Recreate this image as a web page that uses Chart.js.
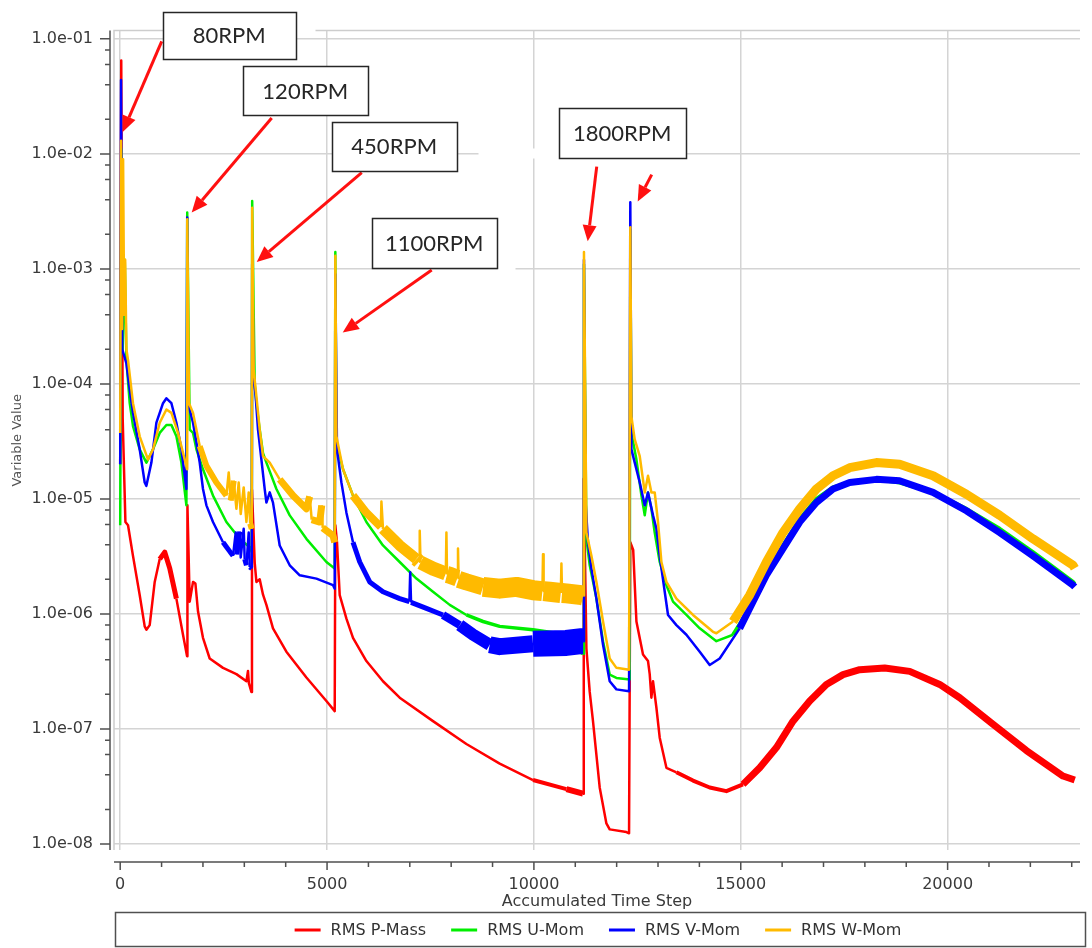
<!DOCTYPE html>
<html>
<head>
<meta charset="utf-8">
<script src="https://cdn.jsdelivr.net/npm/chart.js@4.4.1/dist/chart.umd.min.js"></script>
<style>
  html, body { margin: 0; padding: 0; background: #fff; }
</style>
</head>
<body>
<canvas id="myChart" width="1092" height="948"></canvas>
<script>
// axis ranges and tick labels
const xMin = -150, xMax = 23200;
const yMin = 8.87e-9, yMax = 1.18e-1;
const xTicks = [0, 5000, 10000, 15000, 20000];
const yTicks = [1e-1, 1e-2, 1e-3, 1e-4, 1e-5, 1e-6, 1e-7, 1e-8];

const seriesNames = ['RMS P-Mass', 'RMS U-Mom', 'RMS V-Mom', 'RMS W-Mom'];

// [accumulated time step, residual]
const pMass = [
    [0, 2.0e-5], [25, 6.5e-2], [60, 5.0e-5], [126, 6.3e-6], [189, 5.9e-6], [309, 3.2e-6], [471, 1.46e-6],
    [592, 7.8e-7], [633, 7.3e-7], [713, 8.0e-7], [834, 1.9e-6], [955, 3.0e-6], [1076, 3.45e-6], [1197, 2.5e-6],
    [1358, 1.36e-6], [1518, 6.6e-7], [1615, 4.3e-7], [1625, 8.8e-6], [1680, 1.28e-6], [1760, 1.9e-6],
    [1818, 1.84e-6], [1881, 1.05e-6], [2001, 6.2e-7], [2163, 4.1e-7], [2485, 3.4e-7], [2809, 3.0e-7],
    [3051, 2.6e-7], [3089, 3.2e-7], [3110, 2.5e-7], [3171, 2.1e-7], [3185, 1.2e-5], [3251, 2.8e-6],
    [3292, 1.9e-6], [3372, 2.0e-6], [3452, 1.47e-6], [3534, 1.2e-6], [3693, 7.5e-7], [4017, 4.7e-7],
    [4501, 2.8e-7], [4984, 1.75e-7], [5185, 1.43e-7], [5200, 5.9e-6], [5240, 4.2e-6], [5306, 1.46e-6],
    [5468, 9.1e-7], [5627, 6.2e-7], [5951, 3.9e-7], [6352, 2.6e-7], [6756, 1.87e-7], [7561, 1.17e-7],
    [8368, 7.4e-8], [9173, 5.0e-8], [9978, 3.6e-8], [10786, 3.0e-8], [11187, 2.74e-8], [11205, 1.5e-5],
    [11269, 5.0e-7], [11349, 2.1e-7], [11428, 1.17e-7], [11590, 3.1e-8], [11752, 1.51e-8], [11832, 1.34e-8],
    [12236, 1.27e-8], [12300, 1.24e-8], [12330, 4.2e-6], [12400, 3.6e-6], [12478, 8.6e-7], [12637, 4.45e-7],
    [12758, 3.9e-7], [12799, 3.0e-7], [12840, 1.87e-7], [12879, 2.6e-7], [12961, 1.53e-7], [13041, 8.4e-8],
    [13203, 4.6e-8], [13444, 4.2e-8], [13846, 3.56e-8], [14249, 3.1e-8], [14653, 2.88e-8], [15054, 3.3e-8],
    [15458, 4.6e-8], [15862, 6.9e-8], [16263, 1.17e-7], [16667, 1.75e-7], [17070, 2.44e-7], [17472, 2.97e-7],
    [17875, 3.28e-7], [18479, 3.39e-7], [19084, 3.17e-7], [19809, 2.44e-7], [20293, 1.87e-7], [21097, 1.10e-7],
    [21905, 6.5e-8], [22789, 3.9e-8], [23073, 3.6e-8]
];

const uMom = [
    [0, 5.9e-6], [30, 1.1e-2], [60, 2.0e-4], [110, 1.2e-3], [150, 1.6e-4], [230, 6.8e-5], [309, 4.3e-5],
    [471, 2.7e-5], [633, 2.07e-5], [793, 2.7e-5], [955, 3.75e-5], [1117, 4.4e-5], [1238, 4.4e-5], [1358, 3.5e-5],
    [1479, 2.07e-5], [1600, 8.8e-6], [1620, 3.1e-3], [1680, 4.0e-5], [1760, 3.75e-5], [1842, 2.7e-5],
    [2001, 1.81e-5], [2243, 1.07e-5], [2567, 6.3e-6], [2889, 4.5e-6], [3130, 3.8e-6], [3180, 3.45e-6],
    [3190, 3.9e-3], [3251, 1.0e-4], [3292, 6.8e-5], [3372, 4.0e-5], [3452, 2.5e-5], [3534, 2.07e-5],
    [3776, 1.22e-5], [4098, 7.2e-6], [4501, 4.5e-6], [4984, 2.83e-6], [5185, 2.48e-6], [5200, 1.4e-3],
    [5226, 3.1e-5], [5386, 1.81e-5], [5627, 1.07e-5], [5951, 6.3e-6], [6352, 3.94e-6], [6756, 2.83e-6],
    [7160, 2.03e-6], [7561, 1.56e-6], [7965, 1.2e-6], [8368, 9.8e-7], [8770, 8.6e-7], [9173, 7.8e-7],
    [9978, 7.3e-7], [10786, 6.6e-7], [11107, 4.7e-7], [11190, 4.5e-7], [11210, 1.1e-3], [11269, 4.5e-6],
    [11349, 2.65e-6], [11511, 1.36e-6], [11671, 5.8e-7], [11832, 2.97e-7], [11994, 2.78e-7], [12316, 2.69e-7],
    [12330, 2.2e-3], [12357, 3.75e-5], [12478, 2.2e-5], [12599, 1.07e-5], [12679, 7.2e-6], [12758, 1.14e-5],
    [12840, 8.2e-6], [12920, 5.1e-6], [13041, 2.83e-6], [13203, 1.78e-6], [13362, 1.28e-6], [13686, 9.8e-7],
    [14008, 7.5e-7], [14411, 5.8e-7], [14813, 6.6e-7], [15216, 1.12e-6], [15620, 2.17e-6], [16021, 3.94e-6],
    [16425, 6.7e-6], [16828, 1.0e-5], [17230, 1.26e-5], [17633, 1.39e-5], [18279, 1.48e-5], [18840, 1.39e-5],
    [19647, 1.14e-5], [20454, 8.2e-6], [21260, 5.5e-6], [22064, 3.45e-6], [23031, 1.9e-6], [23073, 1.83e-6]
];

const vMom = [
    [0, 2.0e-5], [20, 4.4e-2], [50, 2.0e-4], [150, 1.51e-4], [230, 8.9e-5], [309, 5.6e-5], [471, 2.7e-5],
    [592, 1.39e-5], [633, 1.3e-5], [754, 2.07e-5], [875, 4.6e-5], [1035, 6.8e-5], [1117, 7.5e-5], [1238, 6.8e-5],
    [1358, 4.6e-5], [1479, 2.7e-5], [1600, 1.22e-5], [1620, 2.8e-3], [1639, 6.8e-5], [1760, 4.6e-5],
    [1842, 3.1e-5], [1922, 2.07e-5], [2001, 1.22e-5], [2084, 8.8e-6], [2243, 6.3e-6], [2485, 4.2e-6],
    [2727, 3.2e-6], [2792, 5.1e-6], [2816, 3.3e-6], [2889, 5.2e-6], [2913, 3.1e-6], [2985, 5.5e-6],
    [3009, 3.0e-6], [3051, 2.65e-6], [3106, 5.1e-6], [3130, 2.56e-6], [3180, 2.48e-6], [3190, 1.1e-3],
    [3227, 1.16e-4], [3275, 7.8e-5], [3331, 4.0e-5], [3413, 2.2e-5], [3493, 1.22e-5], [3534, 9.3e-6],
    [3614, 1.14e-5], [3693, 9.3e-6], [3855, 3.94e-6], [4098, 2.65e-6], [4340, 2.17e-6], [4743, 2.03e-6],
    [5144, 1.78e-6], [5185, 1.66e-6], [5200, 9.0e-4], [5240, 2.7e-5], [5347, 1.39e-5], [5468, 7.6e-6],
    [5627, 4.2e-6], [5790, 2.83e-6], [6031, 1.9e-6], [6352, 1.56e-6], [6756, 1.36e-6], [6990, 1.28e-6],
    [7010, 2.3e-6], [7030, 1.26e-6], [7401, 1.12e-6], [7803, 9.8e-7], [8207, 8.0e-7], [8528, 6.6e-7],
    [8932, 5.4e-7], [9173, 5.2e-7], [9978, 5.5e-7], [10786, 5.6e-7], [11150, 5.8e-7], [11190, 5.8e-7],
    [11210, 1.2e-3], [11250, 9.3e-6], [11307, 4.2e-6], [11390, 2.48e-6], [11511, 1.36e-6], [11671, 5.4e-7],
    [11832, 2.6e-7], [11994, 2.21e-7], [12300, 2.13e-7], [12330, 3.8e-3], [12357, 2.7e-5], [12437, 2.07e-5],
    [12558, 1.39e-5], [12679, 8.8e-6], [12758, 1.14e-5], [12879, 7.2e-6], [12961, 5.5e-6], [13041, 3.2e-6],
    [13162, 1.56e-6], [13242, 9.8e-7], [13444, 8.0e-7], [13686, 6.6e-7], [14008, 4.7e-7], [14249, 3.6e-7],
    [14491, 4.1e-7], [14974, 7.5e-7], [15296, 1.28e-6], [15620, 2.17e-6], [16021, 3.7e-6], [16425, 6.3e-6],
    [16828, 9.3e-6], [17230, 1.22e-5], [17633, 1.39e-5], [18279, 1.48e-5], [18840, 1.44e-5], [19647, 1.14e-5],
    [20454, 7.9e-6], [21260, 5.1e-6], [22064, 3.2e-6], [23031, 1.78e-6], [23073, 1.72e-6]
];

const wMom = [
    [0, 3.75e-5], [20, 1.3e-2], [45, 3.0e-4], [70, 9.0e-3], [95, 4.0e-4], [120, 1.2e-3], [150, 2.0e-4],
    [189, 1.61e-4], [309, 6.8e-5], [471, 3.5e-5], [672, 2.2e-5], [793, 2.7e-5], [955, 4.6e-5], [1117, 6.0e-5],
    [1238, 5.6e-5], [1397, 3.75e-5], [1559, 2.2e-5], [1615, 1.81e-5], [1620, 2.7e-3], [1663, 6.8e-5],
    [1760, 5.6e-5], [1842, 4.0e-5], [1922, 2.88e-5], [2084, 1.94e-5], [2325, 1.39e-5], [2567, 1.07e-5],
    [2623, 1.7e-5], [2671, 9.7e-6], [2744, 1.44e-5], [2809, 8.2e-6], [2864, 1.39e-5], [2913, 7.4e-6],
    [2985, 1.26e-5], [3051, 6.3e-6], [3106, 1.14e-5], [3142, 6.1e-6], [3180, 5.5e-6], [3190, 3.4e-3],
    [3227, 1.32e-4], [3292, 7.8e-5], [3372, 4.0e-5], [3452, 2.36e-5], [3614, 2.07e-5], [3855, 1.48e-5],
    [4177, 1.07e-5], [4501, 8.2e-6], [4580, 1.05e-5], [4629, 6.6e-6], [4822, 6.3e-6], [4871, 8.8e-6],
    [4895, 5.6e-6], [5144, 4.8e-6], [5185, 4.2e-6], [5200, 1.3e-3], [5226, 3.5e-5], [5386, 1.81e-5],
    [5627, 1.07e-5], [5951, 7.6e-6], [6300, 5.7e-6], [6314, 9.5e-6], [6352, 5.5e-6], [6756, 3.94e-6],
    [7160, 3.0e-6], [7225, 2.85e-6], [7240, 5.3e-6], [7260, 2.8e-6], [7561, 2.48e-6], [7870, 2.25e-6],
    [7885, 5.1e-6], [7900, 2.2e-6], [7965, 2.17e-6], [8150, 2.05e-6], [8165, 3.7e-6], [8180, 2.0e-6],
    [8368, 1.9e-6], [8770, 1.72e-6], [9173, 1.66e-6], [9577, 1.72e-6], [9978, 1.61e-6], [10205, 1.58e-6],
    [10220, 3.3e-6], [10235, 1.58e-6], [10382, 1.56e-6], [10650, 1.52e-6], [10665, 2.74e-6], [10680, 1.52e-6],
    [10786, 1.51e-6], [11148, 1.46e-6], [11190, 1.45e-6], [11210, 1.4e-3], [11269, 5.1e-6], [11390, 3.2e-6],
    [11511, 1.9e-6], [11671, 8.6e-7], [11832, 4.1e-7], [11994, 3.4e-7], [12300, 3.28e-7], [12330, 2.3e-3],
    [12357, 5.2e-5], [12437, 3.3e-5], [12558, 2.36e-5], [12679, 1.14e-5], [12758, 1.59e-5], [12840, 1.14e-5],
    [12920, 1.14e-5], [13000, 6.3e-6], [13082, 2.83e-6], [13203, 1.9e-6], [13444, 1.36e-6], [13846, 9.8e-7],
    [14329, 7.0e-7], [14411, 6.8e-7], [14813, 8.6e-7], [15216, 1.46e-6], [15620, 2.83e-6], [16021, 5.1e-6],
    [16425, 8.2e-6], [16828, 1.22e-5], [17230, 1.59e-5], [17633, 1.87e-5], [18279, 2.07e-5], [18840, 2.0e-5],
    [19647, 1.59e-5], [20454, 1.1e-5], [21260, 7.2e-6], [22064, 4.5e-6], [23031, 2.65e-6], [23073, 2.5e-6]
];

// rpm callouts: label, box centre [step, value]; mask = white strip [dx, dy, w, h] next to the box
const notes = [
    { text: '80RPM', at: [2635, 1.08e-1], w: 133, h: 47, mask: [133, 14, 19, 10] },
    { text: '120RPM', at: [4472, 3.54e-2], w: 125, h: 49 },
    { text: '450RPM', at: [6623, 1.163e-2], w: 125, h: 49 },
    { text: '1100RPM', at: [7590, 1.674e-3], w: 125, h: 50, mask: [125, 42, 18, 10] },
    { text: '1800RPM', at: [12134, 1.521e-2], w: 127, h: 50, mask: [-81, 40, 81, 10] }
];
const arrows = [
    [[1003, 9.5e-2], [60, 1.55e-2]],
    [[3662, 2.05e-2], [1728, 3.10e-3]],
    [[5838, 6.87e-3], [3300, 1.147e-3]],
    [[7530, 9.78e-4], [5378, 2.796e-4]],
    [[11518, 7.74e-3], [11300, 1.741e-3]],
    [[12847, 6.60e-3], [12509, 3.86e-3]]
];

// styles
const lineColors = ['#ff0000', '#00ee00', '#0000ff', '#ffba00'];
const drawOrder = [4, 3, 2, 1];
// noisy stretches drawn as wider strokes: [fromStep, toStep, width]
const noiseBands = [
    [[850, 1300, 5], [9400, 10000, 4], [10000, 11195, 6], [13400, 14800, 4], [14800, 23200, 7]],
    [[8000, 11195, 3.5], [14800, 23200, 4]],
    [[2300, 3185, 5], [5600, 7500, 5], [7500, 8200, 8], [8200, 8700, 12], [8700, 9200, 17],
     [9200, 9978, 22], [9978, 11195, 26], [14600, 23200, 7]],
    [[1900, 3185, 6], [3800, 5190, 7], [5400, 6000, 8], [6000, 6800, 11], [6800, 7600, 14],
     [7600, 8400, 17], [8400, 11195, 20], [14500, 23200, 9]]
];

// steep pieces (spikes) stay thin even inside a noisy stretch
function widthFor(bands, base) {
    return ctx => {
        const p0 = ctx.p0.parsed, p1 = ctx.p1.parsed;
        const slope = Math.abs(Math.log10(p1.y / p0.y)) / Math.max(1, p1.x - p0.x);
        if (slope > 0.003) return base;
        for (const [a, b, w] of bands) {
            if (p0.x >= a && p0.x < b) return w;
        }
        return base;
    };
}

function isDecade(v) {
    const e = Math.log10(v);
    return Math.abs(e - Math.round(e)) < 1e-6;
}

function fmtExp(v) {
    const e = Math.round(Math.log10(v));
    const m = v / Math.pow(10, e);
    return m.toFixed(1) + 'e' + (e < 0 ? '-' : '+') + String(Math.abs(e)).padStart(2, '0');
}

const decor = {
    id: 'decor',
    beforeDraw(chart) {
        const c = chart.ctx;
        c.save();
        c.fillStyle = '#ffffff';
        c.fillRect(0, 0, chart.width, chart.height);
        c.restore();
    },
    afterDraw(chart) {
        const c = chart.ctx;
        const a = chart.chartArea;
        const xs = chart.scales.x, ys = chart.scales.y;
        c.save();

        // plot frame (top and left)
        c.strokeStyle = '#cdcdcd';
        c.lineWidth = 1.5;
        c.beginPath();
        c.moveTo(a.left, a.bottom);
        c.lineTo(a.left, a.top);
        c.lineTo(a.right, a.top);
        c.stroke();

        // y axis line with decade and minor ticks
        c.strokeStyle = '#505050';
        c.lineWidth = 1.5;
        const ax = a.left - 4;
        c.beginPath();
        c.moveTo(ax, a.top);
        c.lineTo(ax, a.bottom);
        for (let e = -8; e <= -1; e++) {
            for (const m of [1, 2, 4, 6, 8]) {
                const v = m * Math.pow(10, e);
                if (v > ys.max || v < ys.min) continue;
                const y = ys.getPixelForValue(v);
                c.moveTo(ax, y);
                c.lineTo(ax - (m === 1 ? 10 : 5), y);
            }
        }
        c.stroke();

        // x axis line below the plot
        const ay = a.bottom + 12;
        c.beginPath();
        c.moveTo(a.left, ay);
        c.lineTo(a.right, ay);
        for (let s = 0; s <= xs.max; s += 1000) {
            const x = xs.getPixelForValue(s);
            c.moveTo(x, ay);
            c.lineTo(x, ay + (s % 5000 === 0 ? 8 : 5));
        }
        c.stroke();

        // callout arrows
        c.strokeStyle = '#ff1010';
        c.fillStyle = '#ff1010';
        c.lineWidth = 3;
        arrows.forEach(([from, to]) => {
            const x0 = xs.getPixelForValue(from[0]), y0 = ys.getPixelForValue(from[1]);
            const x1 = xs.getPixelForValue(to[0]), y1 = ys.getPixelForValue(to[1]);
            const ang = Math.atan2(y1 - y0, x1 - x0);
            const hl = 16, hw = 7;
            const bx = x1 - hl * Math.cos(ang), by = y1 - hl * Math.sin(ang);
            c.beginPath();
            c.moveTo(x0, y0);
            c.lineTo(bx, by);
            c.stroke();
            c.beginPath();
            c.moveTo(x1, y1);
            c.lineTo(bx + hw * Math.sin(ang), by - hw * Math.cos(ang));
            c.lineTo(bx - hw * Math.sin(ang), by + hw * Math.cos(ang));
            c.closePath();
            c.fill();
        });

        // callout boxes (pasted with a white margin that hides some grid)
        c.font = '22px Lato';
        c.textAlign = 'center';
        c.textBaseline = 'middle';
        notes.forEach(n => {
            const cx = xs.getPixelForValue(n.at[0]), cy = ys.getPixelForValue(n.at[1]);
            const l = Math.round(cx - n.w / 2) + 0.5, t = Math.round(cy - n.h / 2) + 0.5;
            c.fillStyle = '#ffffff';
            if (n.mask) c.fillRect(l + n.mask[0], t + n.mask[1], n.mask[2], n.mask[3]);
            c.fillRect(l, t, n.w, n.h);
            c.strokeStyle = '#262626';
            c.lineWidth = 1.5;
            c.strokeRect(l, t, n.w, n.h);
            c.fillStyle = '#262626';
            c.fillText(n.text, cx, cy + 1);
        });

        // legend in a box under the axis title
        const ly = 930;
        c.strokeStyle = '#505050';
        c.lineWidth = 1.5;
        c.strokeRect(115.5, 912.5, 970, 34);
        c.font = '16px "DejaVu Sans"';
        c.textAlign = 'left';
        const items = chart.data.datasets.map(d => ({ label: d.label, color: d.borderColor, tw: c.measureText(d.label).width }));
        const total = items.reduce((s, it) => s + 36 + it.tw, 0) + 25 * (items.length - 1);
        let lx = 598 - total / 2;
        items.forEach(it => {
            c.strokeStyle = it.color;
            c.lineWidth = 3;
            c.beginPath();
            c.moveTo(lx, ly);
            c.lineTo(lx + 26, ly);
            c.stroke();
            c.fillStyle = '#333333';
            c.fillText(it.label, lx + 36, ly + 1);
            lx += 36 + it.tw + 25;
        });

        c.restore();
    }
};

Chart.defaults.font.family = '"DejaVu Sans"';

const seriesData = [pMass, uMom, vMom, wMom];

const ctx = document.getElementById('myChart').getContext('2d');
const residualChart = new Chart(ctx, {
    type: 'line',
    data: {
        datasets: seriesData.map((pts, i) => ({
            label: seriesNames[i],
            data: pts.map(([x, y]) => ({ x: x, y: y })),
            borderColor: lineColors[i],
            borderWidth: 2.5,
            borderJoinStyle: 'round',
            borderCapStyle: 'butt',
            pointRadius: 0,
            tension: 0,
            order: drawOrder[i],
            segment: { borderWidth: widthFor(noiseBands[i], 2.5) }
        }))
    },
    options: {
        responsive: false,
        animation: false,
        devicePixelRatio: 1,
        layout: { padding: { top: 25, right: 12, bottom: 37, left: 0 } },
        plugins: {
            legend: { display: false },
            tooltip: { enabled: false }
        },
        scales: {
            x: {
                type: 'linear',
                min: xMin,
                max: xMax,
                afterBuildTicks: s => { s.ticks = xTicks.map(v => ({ value: v })); },
                afterFit: s => { s.height = 61; },
                border: { display: false },
                grid: { color: '#d4d4d4', lineWidth: 1.5, drawTicks: false },
                ticks: {
                    padding: 25,
                    color: '#3a3a3a',
                    font: { size: 16 },
                    maxRotation: 0,
                    autoSkip: false,
                    callback: v => String(v)
                },
                title: {
                    display: true,
                    text: 'Accumulated Time Step',
                    color: '#3a3a3a',
                    font: { size: 16 },
                    padding: { top: 0, bottom: 0 }
                }
            },
            y: {
                type: 'logarithmic',
                min: yMin,
                max: yMax,
                afterBuildTicks: s => { s.ticks = yTicks.map(v => ({ value: v })); },
                afterFit: s => { s.width = 114; },
                border: { display: false },
                grid: { color: '#d4d4d4', lineWidth: 1.5, drawTicks: false },
                ticks: {
                    padding: 21,
                    color: '#3a3a3a',
                    font: { size: 16 },
                    autoSkip: false,
                    callback: v => (isDecade(v) ? fmtExp(v) : '')
                },
                title: {
                    display: true,
                    text: 'Variable Value',
                    color: '#555555',
                    font: { size: 13 },
                    padding: { top: 10, bottom: 0 }
                }
            }
        }
    },
    plugins: [decor]
});
</script>
</body>
</html>
